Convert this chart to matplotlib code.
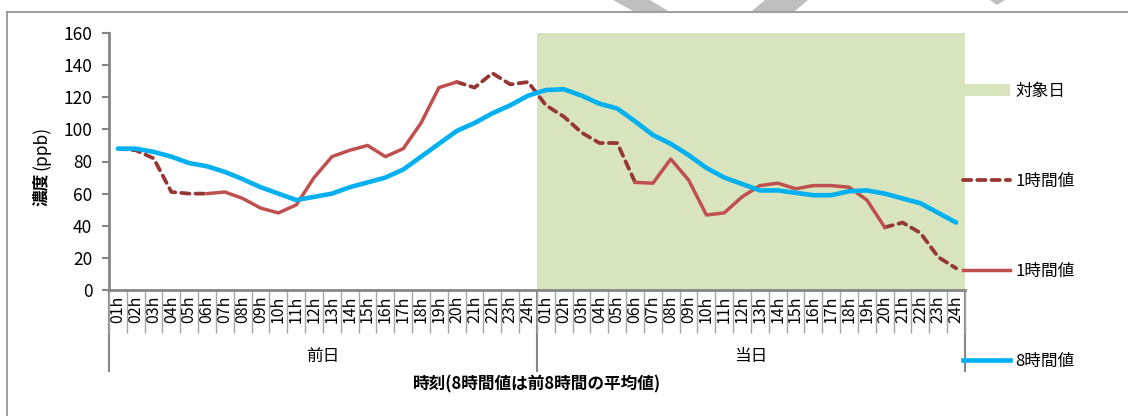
import numpy as np
import matplotlib
matplotlib.use("Agg")
import matplotlib.pyplot as plt
from matplotlib.lines import Line2D
from matplotlib.patches import Patch, Polygon

plt.rcParams['font.family'] = ['Noto Sans CJK JP', 'DejaVu Sans']

# data
hours = ["%02dh" % h for h in range(1, 25)]
days = ["前日", "当日"]
target_day = [0] * 24 + [160] * 24

one_hour_dashed = [88, 87, 82, 61, 60, 60, None, None, None, None, None, None,
                   None, None, None, None, None, None, None, 129.5, 126, 135, 128, 129.5,
                   115, 108, 98, 91.5, 91.5, 67, None, None, None, None, None, None,
                   None, None, None, None, None, None, None, 39, 42, 35.5, 20.5, 13.5]
one_hour_solid = [None, None, None, None, None, 60, 61, 57, 51, 48, 53, 70,
                  83, 87, 90, 83, 88, 104, 126, 129.5, None, None, None, None,
                  None, None, None, None, None, 67, 66.5, 81.5, 68.5, 46.7, 48, 58,
                  65, 66.5, 63, 65, 65, 64, 56, 39, None, None, None, None]
eight_hour = [88, 88, 86, 83, 79, 77, 73.5, 69, 64, 60, 56, 58,
              60, 64, 67, 70, 75, 83, 91, 99, 104, 110, 115, 121,
              124.5, 125, 121, 116, 113, 105, 96.5, 91, 84, 76, 70, 66,
              62, 62, 60.5, 59, 59, 61.5, 62, 60, 57, 54, 48, 42]

green = '#D7E4BD'
dark_red = '#953735'
red = '#C0504D'
blue = '#00B0F0'
axis_gray = '#868686'

labels = hours + hours
x = np.arange(len(labels))
dashed = np.array(one_hour_dashed, dtype=float)
solid = np.array(one_hour_solid, dtype=float)

W, H = 1128, 416
fig = plt.figure(figsize=(W / 100, H / 100), dpi=100)
ax = fig.add_axes([109 / W, 1 - 290 / H, (965 - 109) / W, (290 - 33) / H])

ax.bar(x, target_day, width=1.0, color=green, zorder=1)
ax.plot(x, dashed, color=dark_red, lw=2.7, linestyle=(0, (2.2, 1.6)),
        dash_capstyle='round', zorder=3)
ax.plot(x, solid, color=red, lw=2.5, solid_joinstyle='round', zorder=3)
ax.plot(x, eight_hour, color=blue, lw=3.3, solid_joinstyle='round',
        solid_capstyle='round', zorder=4)

ax.set_xlim(-0.5, len(labels) - 0.5)
ax.set_ylim(0, 160)
ax.set_yticks(np.arange(0, 161, 20))
ax.tick_params(axis='y', length=5, width=1.5, color=axis_gray, labelsize=12.5, pad=7)

for s in ['top', 'right']:
    ax.spines[s].set_visible(False)
for s in ['left', 'bottom']:
    ax.spines[s].set_color(axis_gray)
    ax.spines[s].set_linewidth(2)

# hour labels and separators
ax.set_xticks(x)
ax.set_xticklabels(labels, rotation=90, fontsize=11.5)
ax.tick_params(axis='x', which='major', length=0, pad=4)
ax.set_xticks(np.arange(-0.5, len(labels), 1), minor=True)
ax.tick_params(axis='x', which='minor', length=31, width=1, color='#A6A6A6')

# day level
sec = ax.secondary_xaxis('bottom')
sec.spines['bottom'].set_visible(False)
sec.set_xticks([-0.5, 23.5, 47.5])
sec.set_xticklabels(['', '', ''])
sec.tick_params(which='major', length=59, width=1.5, color=axis_gray)
sec.set_xticks([11.5, 35.5], minor=True)
sec.set_xticklabels(days, minor=True, fontsize=12)
sec.tick_params(which='minor', length=0, pad=42)

# axis titles
fig.text(41 / W, 1 - 189 / H, '濃度', rotation=90, fontsize=12, fontweight='bold',
         ha='center', va='center')
fig.text(41 / W, 1 - 148 / H, '(ppb)', rotation=90, fontsize=12.5,
         ha='center', va='center')
fig.text(537 / W, 1 - 384 / H, '時刻(8時間値は前8時間の平均値)', fontsize=12,
         fontweight='bold', ha='center', va='center')

# legend
handles = [Patch(facecolor=green, edgecolor='none'),
           Line2D([], [], color=dark_red, lw=2.7, linestyle=(0, (2.2, 1.6)),
                  dash_capstyle='round'),
           Line2D([], [], color=red, lw=2.5),
           Line2D([], [], color=blue, lw=3.3)]
leg_labels = ['対象日', '1時間値', '1時間値', '8時間値']
ax.legend(handles, leg_labels, loc='upper left', bbox_to_anchor=(963 / W, 1 - 83 / H),
          bbox_transform=fig.transFigure, frameon=False, borderpad=0,
          borderaxespad=0, handlelength=2.8, handletextpad=0.35,
          labelspacing=4.37, fontsize=12)

# chart frame and the grey shapes cut off at the top
fig.add_artist(Line2D([7 / W, 1], [1 - 12 / H, 1 - 12 / H], color='#8C8C8C', lw=1.2))
fig.add_artist(Line2D([7 / W, 7 / W], [0, 1 - 12 / H], color='#8C8C8C', lw=1.2))
shapes = [[(613, 0), (650, 0), (668, 11), (633, 11)],
          [(765, 0), (808, 0), (795, 11), (752, 11)],
          [(990, 0), (1005, 0), (997, 5)]]
for pts in shapes:
    fig.add_artist(Polygon([(px / W, 1 - py / H) for px, py in pts],
                           closed=True, facecolor='#BFBFBF', edgecolor='none'))

fig.savefig('out.png', dpi=100)
